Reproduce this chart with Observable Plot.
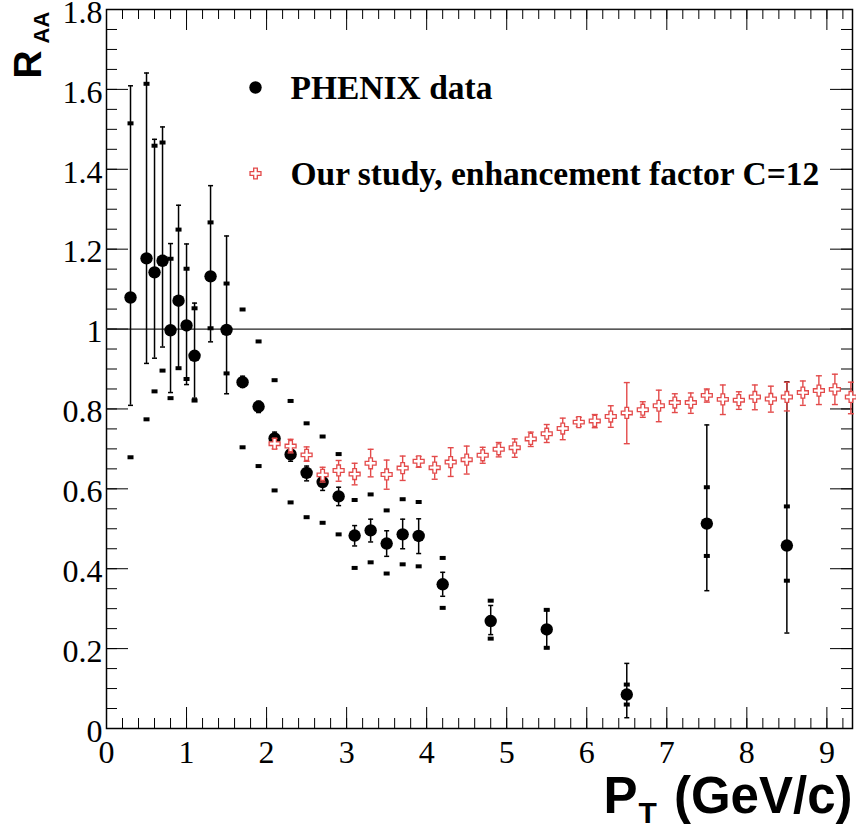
<!DOCTYPE html>
<html><head><meta charset="utf-8">
<script src="https://cdn.jsdelivr.net/npm/d3@7"></script>
<script src="https://cdn.jsdelivr.net/npm/@observablehq/plot@0.6"></script>
<style>
body{margin:0;background:#fff}
</style>
</head><body><div id="chart"></div>
<script>
// PHENIX data
const phenixPt     = [0.3, 0.5, 0.6, 0.7, 0.8, 0.9, 1.0, 1.1, 1.3, 1.5, 1.7, 1.9, 2.1, 2.3, 2.5, 2.7, 2.9, 3.1, 3.3, 3.5, 3.7, 3.9, 4.2, 4.8, 5.5, 6.5, 7.5, 8.5];
const phenixRaa    = [1.079, 1.177, 1.142, 1.171, 0.997, 1.071, 1.009, 0.933, 1.132, 0.998, 0.867, 0.806, 0.726, 0.686, 0.640, 0.617, 0.581, 0.483, 0.496, 0.463, 0.486, 0.482, 0.361, 0.269, 0.248, 0.085, 0.513, 0.458];
const phenixStatLo = [0.809, 0.914, 0.927, 0.955, 0.841, 0.902, 0.861, 0.827, 0.968, 0.838, 0.854, 0.791, 0.711, 0.669, 0.620, 0.596, 0.558, 0.457, 0.467, 0.431, 0.450, 0.438, 0.331, 0.235, 0.202, 0.027, 0.345, 0.239];
const phenixStatHi = [1.609, 1.641, 1.475, 1.506, 1.214, 1.310, 1.213, 1.065, 1.359, 1.233, 0.882, 0.819, 0.742, 0.698, 0.657, 0.636, 0.604, 0.508, 0.524, 0.495, 0.524, 0.525, 0.391, 0.308, 0.297, 0.163, 0.760, 0.868];
const phenixSysLo  = [0.679, 0.774, 0.844, 0.896, 0.827, 0.902, 0.875, 0.821, 1.002, 0.889, 0.704, 0.657, 0.596, 0.566, 0.529, 0.515, 0.486, 0.402, 0.416, 0.388, 0.411, 0.406, 0.302, 0.225, 0.202, 0.060, 0.432, 0.370];
const phenixSysHi  = [1.515, 1.614, 1.459, 1.467, 1.176, 1.249, 1.151, 1.052, 1.267, 1.114, 1.049, 0.969, 0.872, 0.820, 0.764, 0.731, 0.687, 0.572, 0.586, 0.546, 0.574, 0.567, 0.427, 0.320, 0.297, 0.110, 0.604, 0.556];

// Our study, enhancement factor C=12
const studyPt  = [2.1, 2.3, 2.5, 2.7, 2.9, 3.1, 3.3, 3.5, 3.7, 3.9, 4.1, 4.3, 4.5, 4.7, 4.9, 5.1, 5.3, 5.5, 5.7, 5.9, 6.1, 6.3, 6.5, 6.7, 6.9, 7.1, 7.3, 7.5, 7.7, 7.9, 8.1, 8.3, 8.5, 8.7, 8.9, 9.1, 9.3];
const studyRaa = [0.713, 0.707, 0.685, 0.635, 0.646, 0.637, 0.664, 0.636, 0.652, 0.669, 0.653, 0.667, 0.673, 0.684, 0.699, 0.703, 0.725, 0.738, 0.751, 0.767, 0.770, 0.781, 0.790, 0.798, 0.808, 0.816, 0.816, 0.834, 0.824, 0.822, 0.830, 0.825, 0.830, 0.841, 0.846, 0.849, 0.830];
const studyLo  = [0.700, 0.690, 0.669, 0.617, 0.619, 0.610, 0.630, 0.599, 0.621, 0.654, 0.624, 0.631, 0.637, 0.664, 0.680, 0.679, 0.706, 0.716, 0.723, 0.756, 0.753, 0.754, 0.713, 0.779, 0.768, 0.791, 0.789, 0.817, 0.786, 0.799, 0.798, 0.792, 0.795, 0.809, 0.811, 0.811, 0.788];
const studyHi  = [0.726, 0.724, 0.705, 0.654, 0.671, 0.664, 0.699, 0.672, 0.682, 0.681, 0.681, 0.703, 0.707, 0.704, 0.716, 0.725, 0.742, 0.761, 0.777, 0.779, 0.786, 0.808, 0.866, 0.818, 0.847, 0.838, 0.840, 0.850, 0.860, 0.843, 0.860, 0.857, 0.867, 0.870, 0.883, 0.887, 0.867];

// axes
const xDomain = [0, 9.32];
const yDomain = [0, 1.8];
const xMajorTicks = [0, 1, 2, 3, 4, 5, 6, 7, 8, 9];
const yMajorTicks = [0, 0.2, 0.4, 0.6, 0.8, 1, 1.2, 1.4, 1.6, 1.8];
const xMinorTicks = d3.range(0, 47).map(i => i * 0.2);
const yMinorTicks = d3.range(0, 37).map(i => i * 0.05);

const legendLabels = ["PHENIX data", "Our study, enhancement factor C=12"];

const RED = "#e34a4a";
const W = 856, H = 829;
const mL = 106, mR = 4, mT = 9, mB = 101;
const plotW = W - mL - mR, plotH = H - mT - mB;

const phenix = phenixPt.map((x, i) => ({x, y: phenixRaa[i], lo: phenixStatLo[i], hi: phenixStatHi[i], slo: phenixSysLo[i], shi: phenixSysHi[i]}));
const study = studyPt.map((x, i) => ({x, y: studyRaa[i], lo: studyLo[i], hi: studyHi[i]}));

const capSym = (hw) => ({draw(ctx) { ctx.moveTo(-hw, 0); ctx.lineTo(hw, 0); }});
const sysSym = {draw(ctx) { ctx.rect(-3, -2, 6, 4); }};

const serif = "Liberation Serif, Tinos, Times New Roman, Times, Nimbus Roman, FreeSerif, DejaVu Serif, serif";
const sans = "Liberation Sans";

// measure text widths for the composite x title
const cv = document.createElement("canvas").getContext("2d");
function tw(s, size) { cv.font = `bold ${size}px "${sans}"`; return cv.measureText(s).width; }
const tBig = 51, tSub = 30;
const wRest = tw(" (GeV/c)", tBig) + 3;
const wT = tw("T", tSub);

const chart = Plot.plot({
  width: W, height: H,
  marginLeft: mL, marginRight: mR, marginTop: mT, marginBottom: mB,
  x: {domain: xDomain, axis: null},
  y: {domain: yDomain, axis: null},
  style: {background: "white", overflow: "visible"},
  marks: [
    // minor/major ticks on all four sides (pointing inwards)
    Plot.ruleX(xMinorTicks, {x: d => d, insetTop: plotH - 10, stroke: "black", strokeWidth: 1}),
    Plot.ruleX(xMinorTicks, {x: d => d, insetBottom: plotH - 10, stroke: "black", strokeWidth: 1}),
    Plot.ruleX(xMajorTicks, {x: d => d, insetTop: plotH - 21, stroke: "black", strokeWidth: 1}),
    Plot.ruleX(xMajorTicks, {x: d => d, insetBottom: plotH - 21, stroke: "black", strokeWidth: 1}),
    Plot.ruleY(yMinorTicks, {y: d => d, insetRight: plotW - 11, stroke: "black", strokeWidth: 1}),
    Plot.ruleY(yMinorTicks, {y: d => d, insetLeft: plotW - 11, stroke: "black", strokeWidth: 1}),
    Plot.ruleY(yMajorTicks, {y: d => d, insetRight: plotW - 22, stroke: "black", strokeWidth: 1}),
    Plot.ruleY(yMajorTicks, {y: d => d, insetLeft: plotW - 22, stroke: "black", strokeWidth: 1}),
    Plot.frame({stroke: "black", strokeWidth: 1.5}),
    // tick labels (Times-like serif)
    Plot.text(xMajorTicks, {x: d => d, frameAnchor: "bottom", dy: 12, text: d => String(d), lineAnchor: "top", textAnchor: "middle", fontSize: 32, fontWeight: "normal", fontFamily: serif, fill: "black"}),
    Plot.text(yMajorTicks, {y: d => d, frameAnchor: "left", dx: -4, dy: 3, text: d => String(d), lineAnchor: "middle", textAnchor: "end", fontSize: 32, fontWeight: "normal", fontFamily: serif, fill: "black"}),
    Plot.ruleY([1], {stroke: "#222", strokeWidth: 1.3}),

    // PHENIX: systematic markers
    Plot.dot(phenix, {x: "x", y: "shi", symbol: sysSym, fill: "black", stroke: "none"}),
    Plot.dot(phenix, {x: "x", y: "slo", symbol: sysSym, fill: "black", stroke: "none"}),
    // PHENIX: statistical error bars
    Plot.ruleX(phenix, {x: "x", y1: "lo", y2: "hi", stroke: "black", strokeWidth: 1.5}),
    Plot.dot(phenix, {x: "x", y: "lo", symbol: capSym(2.5), stroke: "black", strokeWidth: 1.5, fill: "none"}),
    Plot.dot(phenix, {x: "x", y: "hi", symbol: capSym(2.5), stroke: "black", strokeWidth: 1.5, fill: "none"}),
    Plot.dot(phenix, {x: "x", y: "y", r: 6.2, fill: "black", stroke: "none"}),

    // our study
    Plot.ruleX(study, {x: "x", y1: "lo", y2: "hi", stroke: RED, strokeWidth: 1.4}),
    Plot.dot(study, {x: "x", y: "lo", symbol: capSym(3), stroke: RED, strokeWidth: 1.4, fill: "none"}),
    Plot.dot(study, {x: "x", y: "hi", symbol: capSym(3), stroke: RED, strokeWidth: 1.4, fill: "none"}),
    Plot.dot(study, {x: "x", y: "y", symbol: "cross", r: 4.6, fill: "white", stroke: RED, strokeWidth: 1.3}),

    // legend
    Plot.dot([legendLabels[0]], {frameAnchor: "top-left", dx: 149, dy: 78, r: 6.2, fill: "black", stroke: "none"}),
    Plot.text([legendLabels[0]], {frameAnchor: "top-left", dx: 184, dy: 79, text: d => d, textAnchor: "start", lineAnchor: "middle", fontSize: 33.5, fontWeight: "bold", fontFamily: serif, fill: "black"}),
    Plot.dot([legendLabels[1]], {frameAnchor: "top-left", dx: 149, dy: 164, symbol: "cross", r: 4.6, fill: "white", stroke: RED, strokeWidth: 1.3}),
    Plot.text([legendLabels[1]], {frameAnchor: "top-left", dx: 184, dy: 165, text: d => d, textAnchor: "start", lineAnchor: "middle", fontSize: 33.5, fontWeight: "bold", fontFamily: serif, fill: "black"}),

    // y title R_AA (rotated)
    Plot.text(["R"], {frameAnchor: "top-left", dx: 40 - mL, dy: 78 - mT, text: d => d, rotate: -90, textAnchor: "start", lineAnchor: "bottom", fontSize: 39, fontWeight: "bold", fontFamily: sans, fill: "black"}),
    Plot.text(["AA"], {frameAnchor: "top-left", dx: 48 - mL, dy: 43 - mT, text: d => d, rotate: -90, textAnchor: "start", lineAnchor: "bottom", fontSize: 22, fontWeight: "bold", fontFamily: sans, fill: "black"}),

    // x title P_T (GeV/c)
    Plot.text([" (GeV/c)"], {frameAnchor: "bottom-right", dx: 0, dy: 84, text: d => d, textAnchor: "end", lineAnchor: "bottom", fontSize: tBig, fontWeight: "bold", fontFamily: sans, fill: "black"}),
    Plot.text(["T"], {frameAnchor: "bottom-right", dx: -wRest, dy: 94, text: d => d, textAnchor: "end", lineAnchor: "bottom", fontSize: tSub, fontWeight: "bold", fontFamily: sans, fill: "black"}),
    Plot.text(["P"], {frameAnchor: "bottom-right", dx: -wRest - wT - 1, dy: 84, text: d => d, textAnchor: "end", lineAnchor: "bottom", fontSize: tBig, fontWeight: "bold", fontFamily: sans, fill: "black"})
  ]
});
document.getElementById("chart").appendChild(chart);
</script>
</body></html>
